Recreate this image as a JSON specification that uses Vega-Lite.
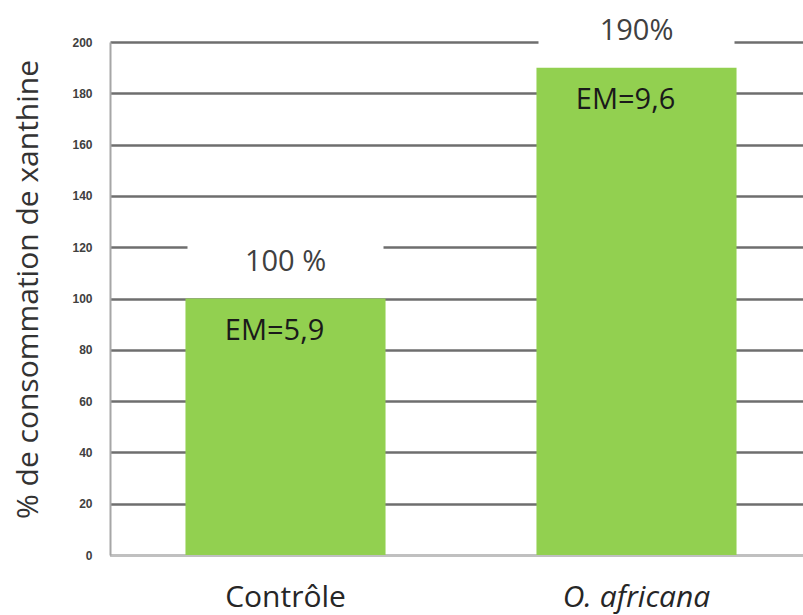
{
  "$schema": "https://vega.github.io/schema/vega-lite/v6.json",
  "autosize": {"type": "none"},
  "padding": {"left": 110, "top": 42, "right": 0, "bottom": 60},
  "width": 702,
  "height": 513,
  "background": "white",
  "config": {"view": {"stroke": null}, "font": "Liberation Sans"},
  "data": {
    "values": [
      {"groupe": "Contrôle", "pct": 100, "label": "100 %", "em": "EM=5,9"},
      {"groupe": "O. africana", "pct": 190, "label": "190%", "em": "EM=9,6"}
    ]
  },
  "encoding": {
    "x": {
      "field": "groupe",
      "type": "nominal",
      "sort": null,
      "scale": {"paddingInner": 0.43, "paddingOuter": 0.215},
      "axis": {
        "title": null,
        "labelAngle": 0,
        "labelFontSize": 30,
        "labelColor": "#262626",
        "labelPadding": 27,
        "labelFont": "Open Sans",
        "labelFontStyle": {"condition": {"test": "datum.value == 'O. africana'", "value": "italic"}, "value": "normal"},
        "ticks": false,
        "domainColor": "#c0c0c0",
        "domainWidth": 3,
        "grid": false
      }
    },
    "y": {
      "field": "pct",
      "type": "quantitative",
      "scale": {"domain": [0, 200], "nice": false},
      "axis": {
        "title": "% de consommation de xanthine",
        "titleFontSize": 30,
        "titleFontWeight": "normal",
        "titleColor": "#333333",
        "titleFont": "Open Sans",
        "titleAngle": -90,
        "titleX": -82,
        "titleY": 247,
        "titleAlign": "center",
        "titleBaseline": "middle",
        "values": [0, 20, 40, 60, 80, 100, 120, 140, 160, 180, 200],
        "labelFontSize": 12,
        "labelFontWeight": "bold",
        "labelColor": "#404040",
        "labelPadding": 18,
        "ticks": false,
        "grid": true,
        "gridColor": "#6e6e6e",
        "gridWidth": 2.5,
        "domain": true,
        "domainColor": "#a6a6a6",
        "domainWidth": 2
      }
    }
  },
  "layer": [
    {"mark": {"type": "bar", "color": "#92d050"}},
    {
      "mark": {
        "type": "point",
        "shape": "M-1,-0.2857L1,-0.2857L1,0.2857L-1,0.2857Z",
        "size": 38416,
        "filled": true,
        "fill": "white",
        "opacity": 1,
        "strokeWidth": 0,
        "yOffset": -37
      }
    },
    {
      "mark": {"type": "text", "dy": -37, "fontSize": 29, "color": "#404040", "font": "Open Sans"},
      "encoding": {"text": {"field": "label"}}
    },
    {
      "mark": {"type": "text", "dy": 32, "dx": -11, "fontSize": 29, "color": "#1a1a1a", "font": "Open Sans"},
      "encoding": {"text": {"field": "em"}}
    }
  ]
}
